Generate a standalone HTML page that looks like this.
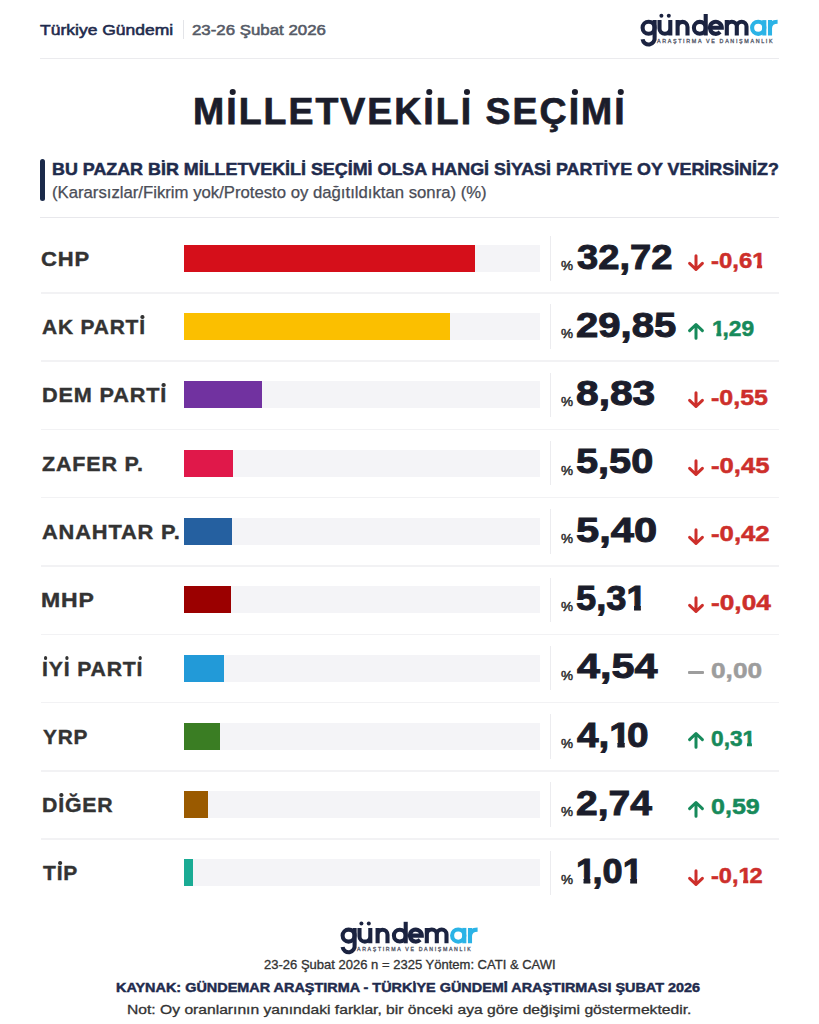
<!DOCTYPE html><html><head><meta charset="utf-8"><style>
html,body{margin:0;padding:0;background:#fff;width:819px;height:1024px;overflow:hidden}
body{position:relative;font-family:"Liberation Sans",sans-serif}
.t{position:absolute;white-space:nowrap;transform-origin:0 0}
.r{position:absolute}
.idot{position:relative}.idot::after{content:'';position:absolute;left:50%;border-radius:50%;background:currentColor}
.id1::after{width:0.16em;height:0.16em;margin-left:-0.08em;top:-0.05em}
.id2::after{width:0.17em;height:0.17em;margin-left:-0.085em;top:-0.005em}
.one{display:inline-block;margin-right:-0.1em;clip-path:polygon(-10% -10%,110% -10%,110% 64%,calc(66.6% + 0.9px) 64%,calc(66.6% + 0.9px) 110%,calc(42% - 0.9px) 110%,calc(42% - 0.9px) 64%,-10% 64%)}
</style></head><body>
<div class="r" style="left:183.2px;top:20.4px;width:1.2px;height:18.6px;background:#e3e4e8;"></div>
<div class="r" style="left:40px;top:57.7px;width:739px;height:1.2px;background:#ebebee;"></div>
<div class="r" style="left:40px;top:159px;width:4.7px;height:42.4px;background:#1b2a4a;border-radius:3px"></div>
<div class="r" style="left:40px;top:217px;width:739px;height:1.2px;background:#e8e8ec;"></div>
<div class="r" style="left:183.5px;top:244.7px;width:356.5px;height:27px;background:#f4f4f7;"></div>
<div class="r" style="left:183.5px;top:244.7px;width:291.62px;height:27px;background:#d50f1a;"></div>
<div class="r" style="left:550.2px;top:236.0px;width:1.1px;height:44.5px;background:#ececef;"></div>
<div class="r" style="left:40.5px;top:292.0px;width:738.5px;height:1.5px;background:#f2f2f4;"></div>
<div class="r" style="left:183.5px;top:313.0px;width:356.5px;height:27px;background:#f4f4f7;"></div>
<div class="r" style="left:183.5px;top:313.0px;width:266.04px;height:27px;background:#fbbf00;"></div>
<div class="r" style="left:550.2px;top:304.3px;width:1.1px;height:44.5px;background:#ececef;"></div>
<div class="r" style="left:40.5px;top:360.3px;width:738.5px;height:1.5px;background:#f2f2f4;"></div>
<div class="r" style="left:183.5px;top:381.3px;width:356.5px;height:27px;background:#f4f4f7;"></div>
<div class="r" style="left:183.5px;top:381.3px;width:78.7px;height:27px;background:#7132a0;"></div>
<div class="r" style="left:550.2px;top:372.6px;width:1.1px;height:44.5px;background:#ececef;"></div>
<div class="r" style="left:40.5px;top:428.6px;width:738.5px;height:1.5px;background:#f2f2f4;"></div>
<div class="r" style="left:183.5px;top:449.6px;width:356.5px;height:27px;background:#f4f4f7;"></div>
<div class="r" style="left:183.5px;top:449.6px;width:49.02px;height:27px;background:#e0184a;"></div>
<div class="r" style="left:550.2px;top:440.9px;width:1.1px;height:44.5px;background:#ececef;"></div>
<div class="r" style="left:40.5px;top:496.9px;width:738.5px;height:1.5px;background:#f2f2f4;"></div>
<div class="r" style="left:183.5px;top:517.9px;width:356.5px;height:27px;background:#f4f4f7;"></div>
<div class="r" style="left:183.5px;top:517.9px;width:48.13px;height:27px;background:#2560a0;"></div>
<div class="r" style="left:550.2px;top:509.2px;width:1.1px;height:44.5px;background:#ececef;"></div>
<div class="r" style="left:40.5px;top:565.2px;width:738.5px;height:1.5px;background:#f2f2f4;"></div>
<div class="r" style="left:183.5px;top:586.2px;width:356.5px;height:27px;background:#f4f4f7;"></div>
<div class="r" style="left:183.5px;top:586.2px;width:47.33px;height:27px;background:#9b0000;"></div>
<div class="r" style="left:550.2px;top:577.5px;width:1.1px;height:44.5px;background:#ececef;"></div>
<div class="r" style="left:40.5px;top:633.5px;width:738.5px;height:1.5px;background:#f2f2f4;"></div>
<div class="r" style="left:183.5px;top:654.5px;width:356.5px;height:27px;background:#f4f4f7;"></div>
<div class="r" style="left:183.5px;top:654.5px;width:40.46px;height:27px;background:#229ad8;"></div>
<div class="r" style="left:550.2px;top:645.8px;width:1.1px;height:44.5px;background:#ececef;"></div>
<div class="r" style="left:40.5px;top:701.8px;width:738.5px;height:1.5px;background:#f2f2f4;"></div>
<div class="r" style="left:183.5px;top:722.8px;width:356.5px;height:27px;background:#f4f4f7;"></div>
<div class="r" style="left:183.5px;top:722.8px;width:36.54px;height:27px;background:#3a7d23;"></div>
<div class="r" style="left:550.2px;top:714.1px;width:1.1px;height:44.5px;background:#ececef;"></div>
<div class="r" style="left:40.5px;top:770.1px;width:738.5px;height:1.5px;background:#f2f2f4;"></div>
<div class="r" style="left:183.5px;top:791.1px;width:356.5px;height:27px;background:#f4f4f7;"></div>
<div class="r" style="left:183.5px;top:791.1px;width:24.42px;height:27px;background:#9a5a00;"></div>
<div class="r" style="left:550.2px;top:782.4px;width:1.1px;height:44.5px;background:#ececef;"></div>
<div class="r" style="left:40.5px;top:838.4px;width:738.5px;height:1.5px;background:#f2f2f4;"></div>
<div class="r" style="left:183.5px;top:859.4px;width:356.5px;height:27px;background:#f4f4f7;"></div>
<div class="r" style="left:183.5px;top:859.4px;width:9.0px;height:27px;background:#1aab94;"></div>
<div class="r" style="left:550.2px;top:850.7px;width:1.1px;height:44.5px;background:#ececef;"></div>
<div class="r" style="left:688px;top:670.6px;width:16px;height:3px;background:#9d9d9d;border-radius:1px"></div>
<svg class="r" style="left:687px;top:254.30px" width="18" height="18" viewBox="0 0 18 18"><path d="M9 1.8V15.5M2.6 9.3L9 15.5L15.4 9.3" fill="none" stroke="#cd2f2b" stroke-width="3" stroke-linecap="round" stroke-linejoin="round"/></svg>
<svg class="r" style="left:687px;top:321.60px" width="18" height="18" viewBox="0 0 18 18"><path d="M9 16.2V2.5M2.6 8.7L9 2.5L15.4 8.7" fill="none" stroke="#178a5b" stroke-width="3" stroke-linecap="round" stroke-linejoin="round"/></svg>
<svg class="r" style="left:687px;top:390.90px" width="18" height="18" viewBox="0 0 18 18"><path d="M9 1.8V15.5M2.6 9.3L9 15.5L15.4 9.3" fill="none" stroke="#cd2f2b" stroke-width="3" stroke-linecap="round" stroke-linejoin="round"/></svg>
<svg class="r" style="left:687px;top:459.20px" width="18" height="18" viewBox="0 0 18 18"><path d="M9 1.8V15.5M2.6 9.3L9 15.5L15.4 9.3" fill="none" stroke="#cd2f2b" stroke-width="3" stroke-linecap="round" stroke-linejoin="round"/></svg>
<svg class="r" style="left:687px;top:527.50px" width="18" height="18" viewBox="0 0 18 18"><path d="M9 1.8V15.5M2.6 9.3L9 15.5L15.4 9.3" fill="none" stroke="#cd2f2b" stroke-width="3" stroke-linecap="round" stroke-linejoin="round"/></svg>
<svg class="r" style="left:687px;top:595.80px" width="18" height="18" viewBox="0 0 18 18"><path d="M9 1.8V15.5M2.6 9.3L9 15.5L15.4 9.3" fill="none" stroke="#cd2f2b" stroke-width="3" stroke-linecap="round" stroke-linejoin="round"/></svg>
<svg class="r" style="left:687px;top:731.40px" width="18" height="18" viewBox="0 0 18 18"><path d="M9 16.2V2.5M2.6 8.7L9 2.5L15.4 8.7" fill="none" stroke="#178a5b" stroke-width="3" stroke-linecap="round" stroke-linejoin="round"/></svg>
<svg class="r" style="left:687px;top:799.70px" width="18" height="18" viewBox="0 0 18 18"><path d="M9 16.2V2.5M2.6 8.7L9 2.5L15.4 8.7" fill="none" stroke="#178a5b" stroke-width="3" stroke-linecap="round" stroke-linejoin="round"/></svg>
<svg class="r" style="left:687px;top:869.00px" width="18" height="18" viewBox="0 0 18 18"><path d="M9 1.8V15.5M2.6 9.3L9 15.5L15.4 9.3" fill="none" stroke="#cd2f2b" stroke-width="3" stroke-linecap="round" stroke-linejoin="round"/></svg>
<svg class="r" style="left:0;top:0" width="819" height="1024" viewBox="0 0 819 1024"><g transform="translate(0 0) scale(1.0)"><g fill="none" stroke="#1b2340" stroke-width="4.1"><path d="M654.6 20.1V37.2A6 6.2 0 0 1 642.6 39.2"/>
<circle cx="648.6" cy="27.8" r="6"/>
<path d="M659.5 20.1V28.6A5.4 5.2 0 0 0 670.3 28.6M670.3 20.1V35.5"/>
<path d="M677.6 35.5V20.1M677.6 27A4.95 5.1 0 0 1 687.5 27V35.5"/>
<circle cx="699.8" cy="27.8" r="5.9"/>
<path d="M705.7 14V35.5"/>
<path d="M709.8 27.8H721.8A6 6 0 1 0 720.1 32"/>
<path d="M726.8 35.5V20.1M726.8 26.6A5 4.9 0 0 1 736.8 26.6V35.5M736.8 26.6A4.85 4.9 0 0 1 746.5 26.6V35.5"/></g><circle cx="661.4" cy="15.7" r="2.0" fill="#1b2340"/><circle cx="668.8" cy="15.7" r="2.0" fill="#1b2340"/><g fill="none" stroke="#2bb3e6" stroke-width="4.1"><circle cx="758.2" cy="27.8" r="6.1"/>
<path d="M764.3 20.1V35.5"/>
<path d="M770 35.5V20.1M770 28.2Q770.3 21.8 777.6 21.8"/></g></g><g transform="translate(-300.0 907.8) scale(1.0)"><g fill="none" stroke="#1b2340" stroke-width="4.1"><path d="M654.6 20.1V37.2A6 6.2 0 0 1 642.6 39.2"/>
<circle cx="648.6" cy="27.8" r="6"/>
<path d="M659.5 20.1V28.6A5.4 5.2 0 0 0 670.3 28.6M670.3 20.1V35.5"/>
<path d="M677.6 35.5V20.1M677.6 27A4.95 5.1 0 0 1 687.5 27V35.5"/>
<circle cx="699.8" cy="27.8" r="5.9"/>
<path d="M705.7 14V35.5"/>
<path d="M709.8 27.8H721.8A6 6 0 1 0 720.1 32"/>
<path d="M726.8 35.5V20.1M726.8 26.6A5 4.9 0 0 1 736.8 26.6V35.5M736.8 26.6A4.85 4.9 0 0 1 746.5 26.6V35.5"/></g><circle cx="661.4" cy="15.7" r="2.0" fill="#1b2340"/><circle cx="668.8" cy="15.7" r="2.0" fill="#1b2340"/><g fill="none" stroke="#2bb3e6" stroke-width="4.1"><circle cx="758.2" cy="27.8" r="6.1"/>
<path d="M764.3 20.1V35.5"/>
<path d="M770 35.5V20.1M770 28.2Q770.3 21.8 777.6 21.8"/></g></g></svg>
<div class="t" style="left:39.97px;top:22.18px;font-size:15.14px;line-height:15.14px;font-weight:normal;color:#1f2b4d;-webkit-text-stroke:0.55px #1f2b4d;transform:scaleX(1.1569)">Türkiye Gündemi</div>
<div class="t" style="left:192.16px;top:22.18px;font-size:15.14px;line-height:15.14px;font-weight:normal;color:#555a66;-webkit-text-stroke:0.55px #555a66;transform:scaleX(1.1131)">23-26 Şubat 2026</div>
<div class="t" style="left:192.74px;top:94.21px;font-size:36.74px;line-height:36.74px;font-weight:bold;color:#1b1d2b;-webkit-text-stroke:0.75px #1b1d2b;transform:scaleX(1.0185);letter-spacing:2.000px">M<span class="idot id1">I</span>LLETVEK<span class="idot id1">I</span>L<span class="idot id1">I</span> SEÇ<span class="idot id1">I</span>M<span class="idot id1">I</span></div>
<div class="t" style="left:52.29px;top:161.58px;font-size:16.81px;line-height:16.81px;font-weight:bold;color:#1f2b4d;-webkit-text-stroke:0.5px #1f2b4d;transform:scaleX(1.0642)">BU PAZAR B<span class="idot id2">I</span>R M<span class="idot id2">I</span>LLETVEK<span class="idot id2">I</span>L<span class="idot id2">I</span> SEÇ<span class="idot id2">I</span>M<span class="idot id2">I</span> OLSA HANG<span class="idot id2">I</span> S<span class="idot id2">I</span>YAS<span class="idot id2">I</span> PART<span class="idot id2">I</span>YE OY VER<span class="idot id2">I</span>RS<span class="idot id2">I</span>N<span class="idot id2">I</span>Z?</div>
<div class="t" style="left:52.43px;top:184.85px;font-size:15.58px;line-height:15.58px;font-weight:normal;color:#4a4d57;-webkit-text-stroke:0.25px #4a4d57;transform:scaleX(1.0729)">(Kararsızlar/Fikrim yok/Protesto oy dağıtıldıktan sonra) (%)</div>
<div class="t" style="left:40.92px;top:248.76px;font-size:20.87px;line-height:20.87px;font-weight:bold;color:#333333;-webkit-text-stroke:0.4px #333333;transform:scaleX(1.0547);letter-spacing:0.800px">CHP</div>
<div class="t" style="left:576.77px;top:239.54px;font-size:35.51px;line-height:35.51px;font-weight:bold;color:#1b1d2b;-webkit-text-stroke:1.0px #1b1d2b;transform:scaleX(1.0744)">32,72</div>
<div class="t" style="left:561.12px;top:258.75px;font-size:13.36px;line-height:13.36px;font-weight:normal;color:#2a2a2a;-webkit-text-stroke:0.45px #2a2a2a;transform:scaleX(1.0144)">%</div>
<div class="t" style="left:711.32px;top:250.09px;font-size:22.17px;line-height:22.17px;font-weight:bold;color:#cd2f2b;-webkit-text-stroke:0.5px #cd2f2b;transform:scaleX(1.0811)">-0,6<span class="one">1</span></div>
<div class="t" style="left:42.38px;top:317.06px;font-size:20.87px;line-height:20.87px;font-weight:bold;color:#333333;-webkit-text-stroke:0.4px #333333;transform:scaleX(1.0042);letter-spacing:0.800px">AK PART<span class="idot id2">I</span></div>
<div class="t" style="left:576.36px;top:307.84px;font-size:35.51px;line-height:35.51px;font-weight:bold;color:#1b1d2b;-webkit-text-stroke:1.0px #1b1d2b;transform:scaleX(1.1291)">29,85</div>
<div class="t" style="left:561.12px;top:327.05px;font-size:13.36px;line-height:13.36px;font-weight:normal;color:#2a2a2a;-webkit-text-stroke:0.45px #2a2a2a;transform:scaleX(1.0144)">%</div>
<div class="t" style="left:711.67px;top:318.39px;font-size:22.17px;line-height:22.17px;font-weight:bold;color:#178a5b;-webkit-text-stroke:0.5px #178a5b;transform:scaleX(1.0293)"><span class="one">1</span>,29</div>
<div class="t" style="left:41.51px;top:385.36px;font-size:20.87px;line-height:20.87px;font-weight:bold;color:#333333;-webkit-text-stroke:0.4px #333333;transform:scaleX(1.0394);letter-spacing:0.800px">DEM PART<span class="idot id2">I</span></div>
<div class="t" style="left:576.35px;top:376.14px;font-size:35.51px;line-height:35.51px;font-weight:bold;color:#1b1d2b;-webkit-text-stroke:1.0px #1b1d2b;transform:scaleX(1.1467)">8,83</div>
<div class="t" style="left:561.12px;top:395.35px;font-size:13.36px;line-height:13.36px;font-weight:normal;color:#2a2a2a;-webkit-text-stroke:0.45px #2a2a2a;transform:scaleX(1.0144)">%</div>
<div class="t" style="left:711.33px;top:386.69px;font-size:22.17px;line-height:22.17px;font-weight:bold;color:#cd2f2b;-webkit-text-stroke:0.5px #cd2f2b;transform:scaleX(1.1267)">-0,55</div>
<div class="t" style="left:42.38px;top:453.66px;font-size:20.87px;line-height:20.87px;font-weight:bold;color:#333333;-webkit-text-stroke:0.4px #333333;transform:scaleX(1.0306);letter-spacing:0.800px">ZAFER P.</div>
<div class="t" style="left:576.37px;top:444.44px;font-size:35.51px;line-height:35.51px;font-weight:bold;color:#1b1d2b;-webkit-text-stroke:1.0px #1b1d2b;transform:scaleX(1.1187)">5,50</div>
<div class="t" style="left:561.12px;top:463.65px;font-size:13.36px;line-height:13.36px;font-weight:normal;color:#2a2a2a;-webkit-text-stroke:0.45px #2a2a2a;transform:scaleX(1.0144)">%</div>
<div class="t" style="left:711.32px;top:454.99px;font-size:22.17px;line-height:22.17px;font-weight:bold;color:#cd2f2b;-webkit-text-stroke:0.5px #cd2f2b;transform:scaleX(1.1571)">-0,45</div>
<div class="t" style="left:42.37px;top:521.96px;font-size:20.87px;line-height:20.87px;font-weight:bold;color:#333333;-webkit-text-stroke:0.4px #333333;transform:scaleX(1.0467);letter-spacing:0.800px">ANAHTAR P.</div>
<div class="t" style="left:576.34px;top:512.74px;font-size:35.51px;line-height:35.51px;font-weight:bold;color:#1b1d2b;-webkit-text-stroke:1.0px #1b1d2b;transform:scaleX(1.1734)">5,40</div>
<div class="t" style="left:561.12px;top:531.95px;font-size:13.36px;line-height:13.36px;font-weight:normal;color:#2a2a2a;-webkit-text-stroke:0.45px #2a2a2a;transform:scaleX(1.0144)">%</div>
<div class="t" style="left:711.31px;top:523.29px;font-size:22.17px;line-height:22.17px;font-weight:bold;color:#cd2f2b;-webkit-text-stroke:0.5px #cd2f2b;transform:scaleX(1.1619)">-0,42</div>
<div class="t" style="left:41.44px;top:590.26px;font-size:20.87px;line-height:20.87px;font-weight:bold;color:#333333;-webkit-text-stroke:0.4px #333333;transform:scaleX(1.1040);letter-spacing:0.800px">MHP</div>
<div class="t" style="left:576.42px;top:581.04px;font-size:35.51px;line-height:35.51px;font-weight:bold;color:#1b1d2b;-webkit-text-stroke:1.0px #1b1d2b;transform:scaleX(1.0225)">5,3<span class="one">1</span></div>
<div class="t" style="left:561.12px;top:600.25px;font-size:13.36px;line-height:13.36px;font-weight:normal;color:#2a2a2a;-webkit-text-stroke:0.45px #2a2a2a;transform:scaleX(1.0144)">%</div>
<div class="t" style="left:711.30px;top:591.59px;font-size:22.17px;line-height:22.17px;font-weight:bold;color:#cd2f2b;-webkit-text-stroke:0.5px #cd2f2b;transform:scaleX(1.1854)">-0,04</div>
<div class="t" style="left:41.53px;top:658.56px;font-size:20.87px;line-height:20.87px;font-weight:bold;color:#333333;-webkit-text-stroke:0.4px #333333;transform:scaleX(1.0174);letter-spacing:0.800px"><span class="idot id2">I</span>Y<span class="idot id2">I</span> PART<span class="idot id2">I</span></div>
<div class="t" style="left:577.17px;top:649.34px;font-size:35.51px;line-height:35.51px;font-weight:bold;color:#1b1d2b;-webkit-text-stroke:1.0px #1b1d2b;transform:scaleX(1.1648)">4,54</div>
<div class="t" style="left:561.12px;top:668.55px;font-size:13.36px;line-height:13.36px;font-weight:normal;color:#2a2a2a;-webkit-text-stroke:0.45px #2a2a2a;transform:scaleX(1.0144)">%</div>
<div class="t" style="left:711.30px;top:659.89px;font-size:22.17px;line-height:22.17px;font-weight:bold;color:#9d9d9d;-webkit-text-stroke:0.5px #9d9d9d;transform:scaleX(1.1856)">0,00</div>
<div class="t" style="left:42.60px;top:726.86px;font-size:20.87px;line-height:20.87px;font-weight:bold;color:#333333;-webkit-text-stroke:0.4px #333333;transform:scaleX(0.9993);letter-spacing:0.800px">YRP</div>
<div class="t" style="left:577.16px;top:717.64px;font-size:35.51px;line-height:35.51px;font-weight:bold;color:#1b1d2b;-webkit-text-stroke:1.0px #1b1d2b;transform:scaleX(1.0928)">4,<span class="one">1</span>0</div>
<div class="t" style="left:561.12px;top:736.85px;font-size:13.36px;line-height:13.36px;font-weight:normal;color:#2a2a2a;-webkit-text-stroke:0.45px #2a2a2a;transform:scaleX(1.0144)">%</div>
<div class="t" style="left:711.35px;top:728.19px;font-size:22.17px;line-height:22.17px;font-weight:bold;color:#178a5b;-webkit-text-stroke:0.5px #178a5b;transform:scaleX(1.0249)">0,3<span class="one">1</span></div>
<div class="t" style="left:41.53px;top:795.16px;font-size:20.87px;line-height:20.87px;font-weight:bold;color:#333333;-webkit-text-stroke:0.4px #333333;transform:scaleX(1.0193);letter-spacing:0.800px">D<span class="idot id2">I</span>ĞER</div>
<div class="t" style="left:576.38px;top:785.94px;font-size:35.51px;line-height:35.51px;font-weight:bold;color:#1b1d2b;-webkit-text-stroke:1.0px #1b1d2b;transform:scaleX(1.0988)">2,74</div>
<div class="t" style="left:561.12px;top:805.15px;font-size:13.36px;line-height:13.36px;font-weight:normal;color:#2a2a2a;-webkit-text-stroke:0.45px #2a2a2a;transform:scaleX(1.0144)">%</div>
<div class="t" style="left:711.32px;top:796.49px;font-size:22.17px;line-height:22.17px;font-weight:bold;color:#178a5b;-webkit-text-stroke:0.5px #178a5b;transform:scaleX(1.1310)">0,59</div>
<div class="t" style="left:42.58px;top:863.46px;font-size:20.87px;line-height:20.87px;font-weight:bold;color:#333333;-webkit-text-stroke:0.4px #333333;transform:scaleX(1.0064);letter-spacing:0.800px">T<span class="idot id2">I</span>P</div>
<div class="t" style="left:575.70px;top:854.24px;font-size:35.51px;line-height:35.51px;font-weight:bold;color:#1b1d2b;-webkit-text-stroke:1.0px #1b1d2b;transform:scaleX(1.0198)"><span class="one">1</span>,0<span class="one">1</span></div>
<div class="t" style="left:561.12px;top:873.45px;font-size:13.36px;line-height:13.36px;font-weight:normal;color:#2a2a2a;-webkit-text-stroke:0.45px #2a2a2a;transform:scaleX(1.0144)">%</div>
<div class="t" style="left:711.33px;top:864.79px;font-size:22.17px;line-height:22.17px;font-weight:bold;color:#cd2f2b;-webkit-text-stroke:0.5px #cd2f2b;transform:scaleX(1.0665)">-0,<span class="one">1</span>2</div>
<div class="t" style="left:656.95px;top:39.27px;font-size:5.36px;line-height:5.36px;font-weight:normal;color:#555a6a;-webkit-text-stroke:0.3px #555a6a;letter-spacing:1.659px">ARAŞTIRMA VE DANIŞMANLIK</div>
<div class="t" style="left:357.05px;top:947.09px;font-size:5.22px;line-height:5.22px;font-weight:normal;color:#555a6a;-webkit-text-stroke:0.3px #555a6a;letter-spacing:1.660px">ARAŞTIRMA VE DANIŞMANLIK</div>
<div class="t" style="left:263.91px;top:960.49px;font-size:11.88px;line-height:11.88px;font-weight:normal;color:#333333;-webkit-text-stroke:0.3px #333333;transform:scaleX(1.0961)">23-26 Şubat 2026 n = 2325 Yöntem: CATI & CAWI</div>
<div class="t" style="left:116.19px;top:982.03px;font-size:12.68px;line-height:12.68px;font-weight:bold;color:#1f2b4d;-webkit-text-stroke:0.45px #1f2b4d;transform:scaleX(1.1380)">KAYNAK: GÜNDEMAR ARAŞTIRMA - TÜRK<span class="idot id2">I</span>YE GÜNDEM<span class="idot id2">I</span> ARAŞTIRMASI ŞUBAT 2026</div>
<div class="t" style="left:126.83px;top:1002.77px;font-size:13.19px;line-height:13.19px;font-weight:normal;color:#333333;-webkit-text-stroke:0.3px #333333;transform:scaleX(1.1863)">Not: Oy oranlarının yanındaki farklar, bir önceki aya göre değişimi göstermektedir.</div>
</body></html>
